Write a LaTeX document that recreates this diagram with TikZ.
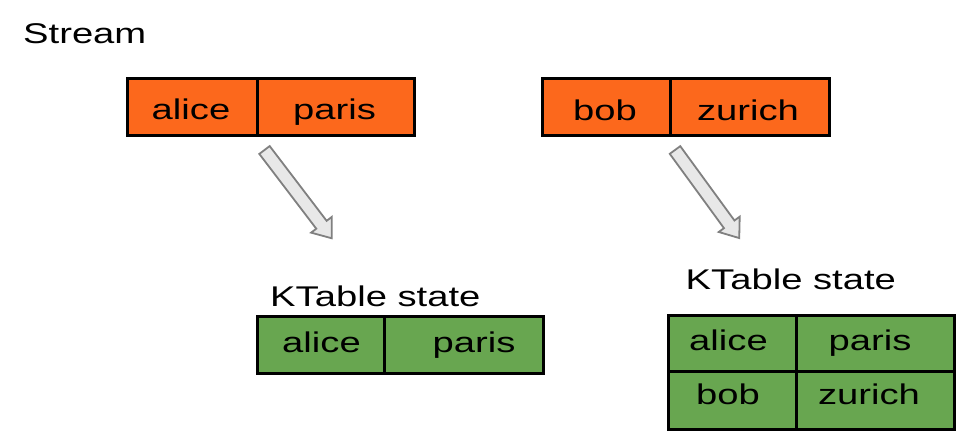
\documentclass[tikz,border=0pt]{standalone}
\usepackage{fontspec}
\setmainfont{Liberation Sans}[FakeStretch=1.34]
\definecolor{streamorange}{RGB}{252,104,28}
\definecolor{tablegreen}{RGB}{104,166,80}
\definecolor{arrowfill}{RGB}{232,232,232}
\definecolor{arrowline}{RGB}{128,128,128}
\tikzset{
  cellbox/.style={draw=black, line width=3pt, inner sep=0pt, anchor=north west},
  ocell/.style={cellbox, fill=streamorange},
  gcell/.style={cellbox, fill=tablegreen},
  txt/.style={inner sep=0pt, anchor=base, font=\fontsize{28.5}{34}\selectfont},
  ttl/.style={inner sep=0pt, anchor=base west, font=\fontsize{28.5}{34}\selectfont},
  arrowstyle/.style={draw=arrowline, fill=arrowfill, line width=1.8pt, line join=miter},
  pics/barrow/.style={code={
    \draw[arrowstyle] (0,-6.5) -- ({#1-17},-6.5) -- ({#1-17},-13) -- (#1,0)
      -- ({#1-17},13) -- ({#1-17},6.5) -- (0,6.5) -- cycle;
  }}
}
\begin{document}
\begin{tikzpicture}[x=1pt,y=-1pt]
\useasboundingbox (0,0) rectangle (958,438);

% title
\node[ttl] (stream) at (23,43.3) {Stream};

% stream records
\node[ocell, minimum width=130pt, minimum height=57pt] (s1k) at (126,77) {};
\node[ocell, minimum width=157pt, minimum height=57pt] (s1v) at (256,77) {};
\node[txt] (s1kt) at (191,120) {alice};
\node[txt] (s1vt) at (334.5,120) {paris};

\node[ocell, minimum width=128pt, minimum height=57pt] (s2k) at (541,77) {};
\node[ocell, minimum width=159pt, minimum height=57pt] (s2v) at (669,77) {};
\node[txt] (s2kt) at (605,121) {bob};
\node[txt] (s2vt) at (748,121) {zurich};

% arrows
\coordinate (a1) at (264.5,150);
\coordinate (a2) at (675,150);
\pic[rotate=-52.7] at (a1) {barrow=111};
\pic[rotate=-53.9] at (a2) {barrow=109};

% KTable state 1
\node[ttl] (k1) at (270,306) {KTable state};
\node[gcell, minimum width=127pt, minimum height=56.5pt] (t1k) at (256,315) {};
\node[gcell, minimum width=159pt, minimum height=56.5pt] (t1v) at (383,315) {};
\node[txt] (t1kt) at (321.5,352.7) {alice};
\node[txt] (t1vt) at (474,352.7) {paris};

% KTable state 2
\node[ttl] (k2) at (685.5,290) {KTable state};
\node[gcell, minimum width=128pt, minimum height=56pt] (t2a) at (667,314) {};
\node[gcell, minimum width=158pt, minimum height=56pt] (t2b) at (795,314) {};
\node[gcell, minimum width=128pt, minimum height=57.5pt] (t2c) at (667,370) {};
\node[gcell, minimum width=158pt, minimum height=57.5pt] (t2d) at (795,370) {};
\node[txt] (t2at) at (728.5,350) {alice};
\node[txt] (t2bt) at (870,350) {paris};
\node[txt] (t2ct) at (728,404) {bob};
\node[txt] (t2dt) at (869,404) {zurich};
\end{tikzpicture}
\end{document}
